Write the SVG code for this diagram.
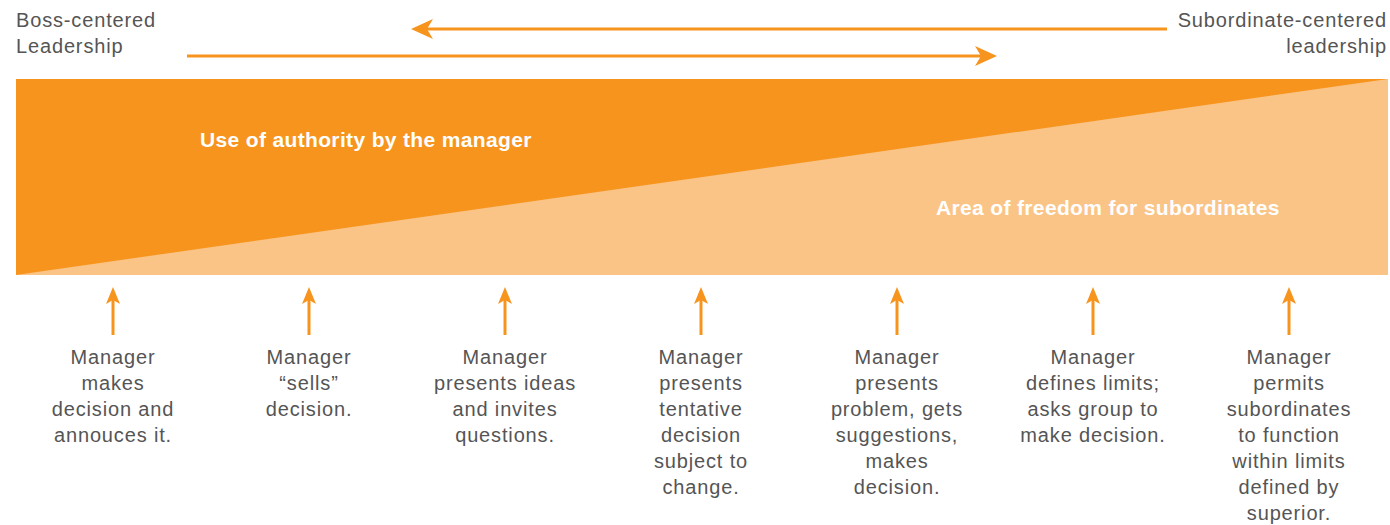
<svg xmlns="http://www.w3.org/2000/svg" width="1390" height="525" viewBox="0 0 1390 525">
<defs>
<style>
.lbl{font-family:"Liberation Sans",Arial,sans-serif;font-size:20px;letter-spacing:0.85px;fill:#555555}
.in{font-family:"Liberation Sans",Arial,sans-serif;font-size:21px;letter-spacing:0.35px;font-weight:bold;fill:#ffffff}
.ln{stroke:#F7941E;stroke-width:3;fill:none}
.hd{fill:#F7941E}
.c{text-anchor:middle}
</style>
</defs>
<g id="band">
<rect x="16" y="79" width="1372" height="196" fill="#FAC487"/>
<polygon points="16,79 1388,79 16,275" fill="#F7941E"/>
<text class="in" x="200" y="147">Use of authority by the manager</text>
<text class="in" x="936" y="215">Area of freedom for subordinates</text>
</g>
<g id="labels-top">
<text class="lbl" x="16" y="27">Boss-centered</text>
<text class="lbl" x="16" y="53">Leadership</text>
<text class="lbl" x="1387" y="27" text-anchor="end">Subordinate-centered</text>
<text class="lbl" x="1387" y="53" text-anchor="end">leadership</text>
</g>
<g id="connectors">
<line class="ln" x1="1167" y1="29" x2="425" y2="29"/>
<polygon class="hd" points="411,29 433,19 427,29 433,39"/>
<line class="ln" x1="187" y1="56" x2="983" y2="56"/>
<polygon class="hd" points="997,56 975,46 981,56 975,66"/>
<g id="up-arrows">
<line class="ln" x1="113" y1="300" x2="113" y2="335"/><polygon class="hd" points="113,287 106,304 113,300 120,304"/>
<line class="ln" x1="309" y1="300" x2="309" y2="335"/><polygon class="hd" points="309,287 302,304 309,300 316,304"/>
<line class="ln" x1="505" y1="300" x2="505" y2="335"/><polygon class="hd" points="505,287 498,304 505,300 512,304"/>
<line class="ln" x1="701" y1="300" x2="701" y2="335"/><polygon class="hd" points="701,287 694,304 701,300 708,304"/>
<line class="ln" x1="897" y1="300" x2="897" y2="335"/><polygon class="hd" points="897,287 890,304 897,300 904,304"/>
<line class="ln" x1="1093" y1="300" x2="1093" y2="335"/><polygon class="hd" points="1093,287 1086,304 1093,300 1100,304"/>
<line class="ln" x1="1289" y1="300" x2="1289" y2="335"/><polygon class="hd" points="1289,287 1282,304 1289,300 1296,304"/>
</g>
</g>
<g id="node1"><text class="lbl c" x="113" y="364">Manager<tspan x="113" dy="26">makes</tspan><tspan x="113" dy="26">decision and</tspan><tspan x="113" dy="26">annouces it.</tspan></text></g>
<g id="node2"><text class="lbl c" x="309" y="364">Manager<tspan x="309" dy="26">“sells”</tspan><tspan x="309" dy="26">decision.</tspan></text></g>
<g id="node3"><text class="lbl c" x="505" y="364">Manager<tspan x="505" dy="26">presents ideas</tspan><tspan x="505" dy="26">and invites</tspan><tspan x="505" dy="26">questions.</tspan></text></g>
<g id="node4"><text class="lbl c" x="701" y="364">Manager<tspan x="701" dy="26">presents</tspan><tspan x="701" dy="26">tentative</tspan><tspan x="701" dy="26">decision</tspan><tspan x="701" dy="26">subject to</tspan><tspan x="701" dy="26">change.</tspan></text></g>
<g id="node5"><text class="lbl c" x="897" y="364">Manager<tspan x="897" dy="26">presents</tspan><tspan x="897" dy="26">problem, gets</tspan><tspan x="897" dy="26">suggestions,</tspan><tspan x="897" dy="26">makes</tspan><tspan x="897" dy="26">decision.</tspan></text></g>
<g id="node6"><text class="lbl c" x="1093" y="364">Manager<tspan x="1093" dy="26">defines limits;</tspan><tspan x="1093" dy="26">asks group to</tspan><tspan x="1093" dy="26">make decision.</tspan></text></g>
<g id="node7"><text class="lbl c" x="1289" y="364">Manager<tspan x="1289" dy="26">permits</tspan><tspan x="1289" dy="26">subordinates</tspan><tspan x="1289" dy="26">to function</tspan><tspan x="1289" dy="26">within limits</tspan><tspan x="1289" dy="26">defined by</tspan><tspan x="1289" dy="26">superior.</tspan></text></g>
</svg>
